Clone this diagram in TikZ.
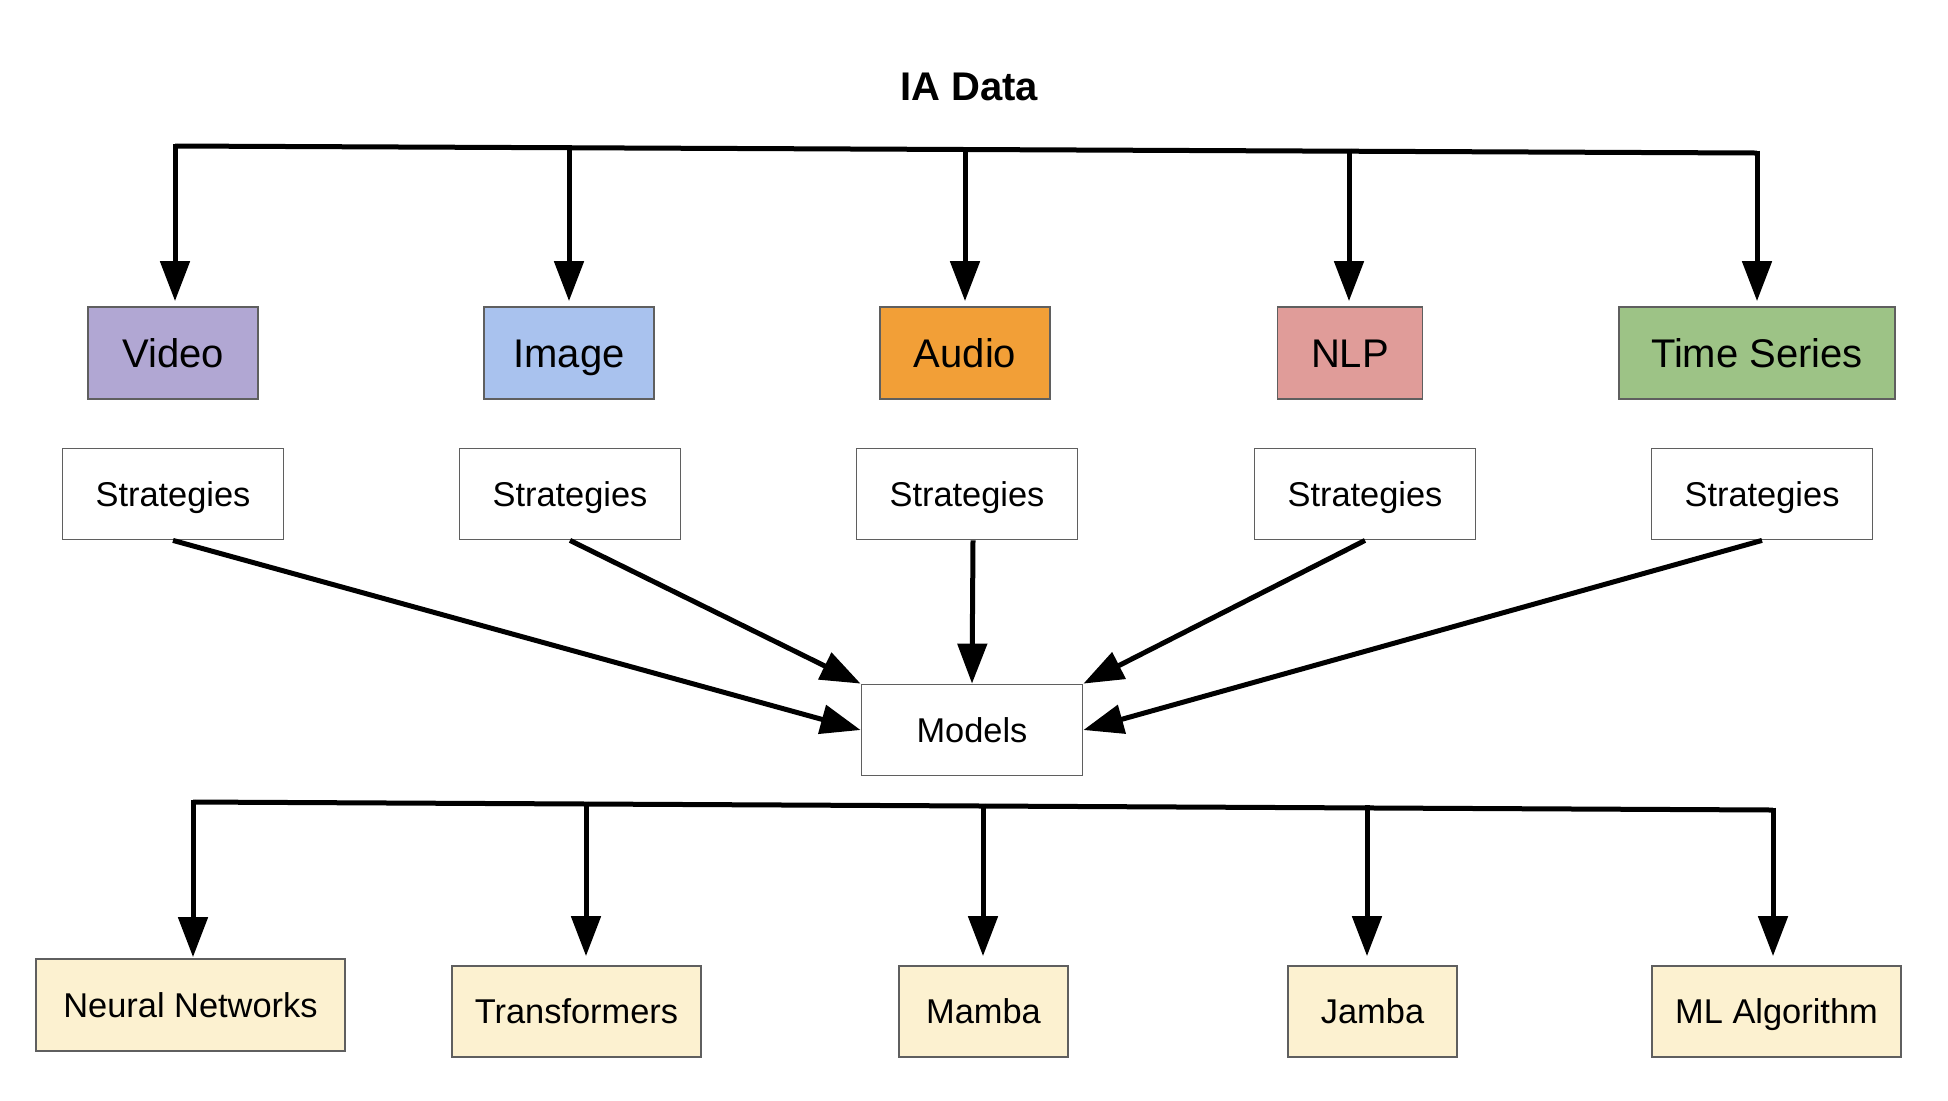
\documentclass[tikz,border=0pt]{standalone}
\usepackage{fontspec}
\setmainfont{Liberation Sans}
\usetikzlibrary{arrows.meta,calc}
\definecolor{cvideo}{HTML}{B1A7D3}
\definecolor{cimage}{HTML}{A9C2EE}
\definecolor{caudio}{HTML}{F29F37}
\definecolor{cnlp}{HTML}{E09C99}
\definecolor{cts}{HTML}{9DC386}
\definecolor{cream}{HTML}{FCF1D0}
\definecolor{boxgray}{HTML}{5F5F5F}
\begin{document}
\begin{tikzpicture}[x=0.5pt,y=-0.5pt,
  box/.style={draw=boxgray,line width=0.9pt,inner sep=0pt,align=center,text depth=0pt},
  topbox/.style={box,minimum height=46pt,text height=14.3pt,font=\fontsize{20}{24}\selectfont},
  midbox/.style={box,fill=white,minimum width=110.5pt,minimum height=45.5pt,text height=12.3pt,font=\fontsize{17.2}{20}\selectfont},
  botbox/.style={box,fill=cream,minimum height=45.5pt,text height=12.3pt,font=\fontsize{17.2}{20}\selectfont},
  conn/.style={line width=2.5pt},
  arr/.style={conn,-{Triangle[length=20pt,width=14.5pt]}}]
\useasboundingbox (0,0) rectangle (1948,1100);

\node[font=\bfseries\fontsize{20}{24}\selectfont] (title) at (969,87) {IA Data};

% top row
\node[topbox,fill=cvideo,minimum width=85pt] (video) at (173,353) {Video};
\node[topbox,fill=cimage,minimum width=85pt] (image) at (569,353) {Image};
\node[topbox,fill=caudio,minimum width=85pt] (audio) at (965,353) {Audio};
\node[topbox,fill=cnlp,minimum width=72.5pt] (nlp) at (1350,353) {NLP};
\node[topbox,fill=cts,minimum width=138pt] (ts) at (1757,353) {Time Series};

\coordinate (ta) at (175,146);
\coordinate (tb) at (569,147.7);
\coordinate (tc) at (965,149.5);
\coordinate (td) at (1349,151.2);
\coordinate (te) at (1757,153);
\draw[conn] (ta) -- (te);
\foreach \c/\n in {ta/video,tb/image,tc/audio,td/nlp,te/ts}
  \draw[arr,shorten >=2.5pt] ($(\c)+(0,-2.5)$) -- (\c |- \n.north);

% strategies
\node[midbox] (s1) at (173,494) {Strategies};
\node[midbox] (s2) at (570,494) {Strategies};
\node[midbox] (s3) at (967,494) {Strategies};
\node[midbox] (s4) at (1365,494) {Strategies};
\node[midbox] (s5) at (1762,494) {Strategies};

% models
\node[midbox] (m) at (972,730) {Models};

\draw[arr] (s1.south) -- (m.west);
\draw[arr] (s2.south) -- (m.north west);
\draw[arr] ($(s3.south)+(6,0)$) -- (m.north);
\draw[arr] (s4.south) -- (m.north east);
\draw[arr] (s5.south) -- (m.east);

% bottom row
\node[botbox,minimum width=154.5pt,minimum height=46pt] (nn) at (190.5,1005) {Neural Networks};
\node[botbox,minimum width=124.5pt] (tr) at (576.5,1011.5) {Transformers};
\node[botbox,minimum width=84.5pt] (mb) at (983.5,1011.5) {Mamba};
\node[botbox,minimum width=84.5pt] (jb) at (1372.5,1011.5) {Jamba};
\node[botbox,minimum width=124.5pt] (ml) at (1776.5,1011.5) {ML Algorithm};

\coordinate (ba) at (193,802);
\coordinate (bb) at (586,804);
\coordinate (bc) at (983,806);
\coordinate (bd) at (1367,807.9);
\coordinate (be) at (1773,810);
\draw[conn] (ba) -- (be);
\draw[arr,shorten >=0.5pt] ($(ba)+(0,-2.5)$) -- (ba |- nn.north);
\foreach \c/\n in {bb/tr,bc/mb,bd/jb,be/ml}
  \draw[arr,shorten >=4.5pt] ($(\c)+(0,-2.5)$) -- (\c |- \n.north);
\end{tikzpicture}
\end{document}
